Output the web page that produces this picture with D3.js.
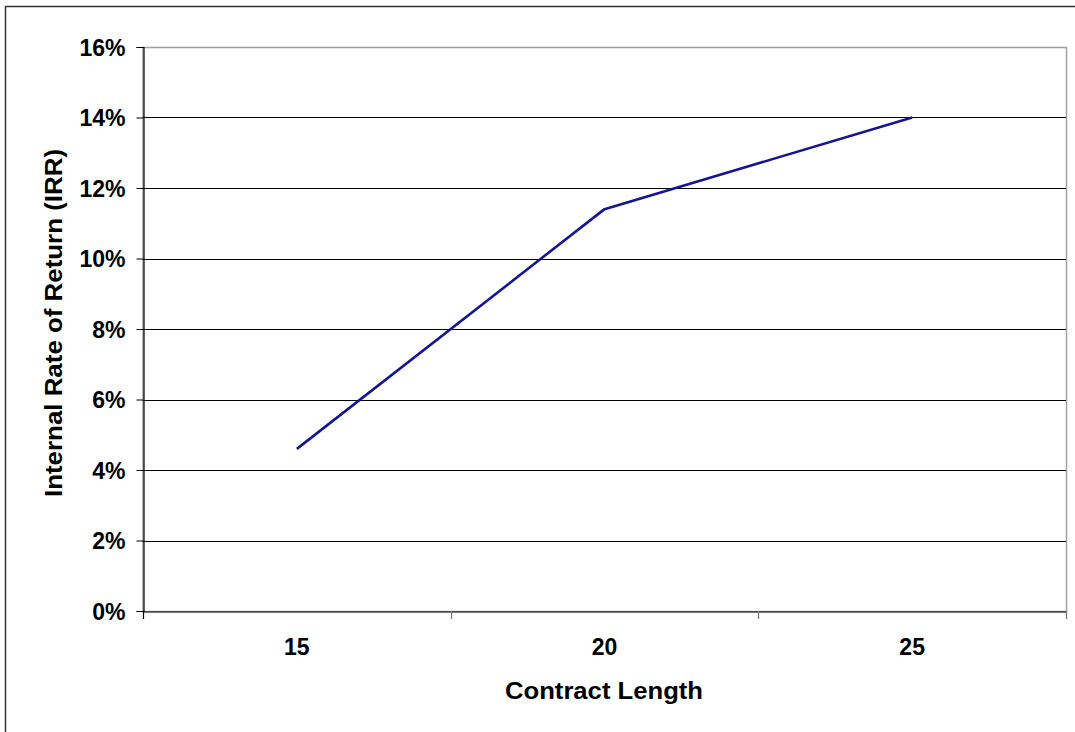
<!DOCTYPE html>
<html>
<head>
<meta charset="utf-8">
<script src="https://cdn.jsdelivr.net/npm/d3@7"></script>
<style>
  html, body { margin: 0; padding: 0; background: #fff; }
  svg { display: block; }
  text { font-family: "Liberation Sans", Arial, sans-serif; font-weight: bold; fill: #000; }
</style>
</head>
<body>
<svg id="chart" width="1075" height="732"></svg>
<script>
const categories = ["15", "20", "25"];
const irrValues = [0.046, 0.114, 0.140];
const yTicks = [0, 0.02, 0.04, 0.06, 0.08, 0.10, 0.12, 0.14, 0.16];
const xTitle = "Contract Length";
const yTitle = "Internal Rate of Return (IRR)";

const svg = d3.select("#chart");
const W = 1075, H = 732;
const plot = { left: 143, right: 1066, top: 47, bottom: 611 };

// outer chart border
svg.append("rect")
  .attr("x", 5.5).attr("y", 6.5)
  .attr("width", W + 10).attr("height", H + 10)
  .attr("fill", "#fff").attr("stroke", "#333").attr("stroke-width", 1.5);

const x = d3.scaleBand().domain(categories).range([plot.left, plot.right]).padding(0);
const y = d3.scaleLinear().domain([0, 0.16]).range([plot.bottom, plot.top]);

// plot area border (gray)
svg.append("rect")
  .attr("x", plot.left).attr("y", plot.top + 0.5)
  .attr("width", plot.right - plot.left + 0.5).attr("height", plot.bottom - plot.top)
  .attr("fill", "none").attr("stroke", "#a0a0a0").attr("stroke-width", 1.5);

// gridlines
svg.append("g").selectAll("line")
  .data(yTicks.filter(d => d > 0 && d < 0.16))
  .join("line")
  .attr("x1", plot.left).attr("x2", plot.right)
  .attr("y1", d => Math.round(y(d)) + 0.5).attr("y2", d => Math.round(y(d)) + 0.5)
  .attr("stroke", "#000").attr("stroke-width", 1);

// Y axis
const yAxis = d3.axisLeft(y).tickValues(yTicks).tickSize(7).tickPadding(11)
  .tickFormat(d3.format(".0%"));
const gy = svg.append("g").attr("transform", `translate(${plot.left + 0.5},0)`).call(yAxis);
gy.attr("font-size", 23).attr("font-family", "'Liberation Sans', Arial, sans-serif");
gy.select(".domain").attr("stroke", "#000").attr("stroke-width", 1.2);
gy.selectAll(".tick line").attr("stroke", "#000");
gy.selectAll(".tick text")
  .style("font-size", "23px")
  .style("font-weight", "bold").attr("fill", "#000").attr("dy", "0.36em");

// X axis
const xAxis = d3.axisBottom(x).tickSize(0).tickPadding(27);
const gx = svg.append("g").attr("transform", `translate(0,${plot.bottom + 0.5})`).call(xAxis);
gx.attr("font-size", 23).attr("font-family", "'Liberation Sans', Arial, sans-serif");
gx.select(".domain").attr("stroke", "#000").attr("stroke-width", 1.2);
gx.selectAll(".tick text")
  .style("font-size", "23px")
  .style("font-weight", "bold").attr("fill", "#000");

// category boundary ticks
const bounds = categories.map(c => x(c)).concat([x(categories[categories.length - 1]) + x.bandwidth()]);
svg.append("g").selectAll("line").data(bounds).join("line")
  .attr("x1", d => Math.round(d) + 0.5).attr("x2", d => Math.round(d) + 0.5)
  .attr("y1", plot.bottom).attr("y2", plot.bottom + 8)
  .attr("stroke", (d, i) => i === 0 ? "#000" : "#777").attr("stroke-width", 1.2);

// line series
const line = d3.line()
  .x((d, i) => x(categories[i]) + x.bandwidth() / 2)
  .y(d => y(d));
svg.append("path")
  .datum(irrValues)
  .attr("d", line)
  .attr("fill", "none")
  .attr("stroke", "#141496")
  .attr("stroke-width", 2.6)
  .attr("stroke-linejoin", "round");

// axis titles
svg.append("text")
  .attr("x", 604).attr("y", 699)
  .attr("text-anchor", "middle")
  .attr("textLength", 198).attr("lengthAdjust", "spacingAndGlyphs")
  .style("font-size", "23px")
  .text(xTitle);

svg.append("text")
  .attr("transform", "translate(62,323) rotate(-90)")
  .attr("text-anchor", "middle")
  .attr("textLength", 348).attr("lengthAdjust", "spacingAndGlyphs")
  .style("font-size", "23px")
  .text(yTitle);
</script>
</body>
</html>
